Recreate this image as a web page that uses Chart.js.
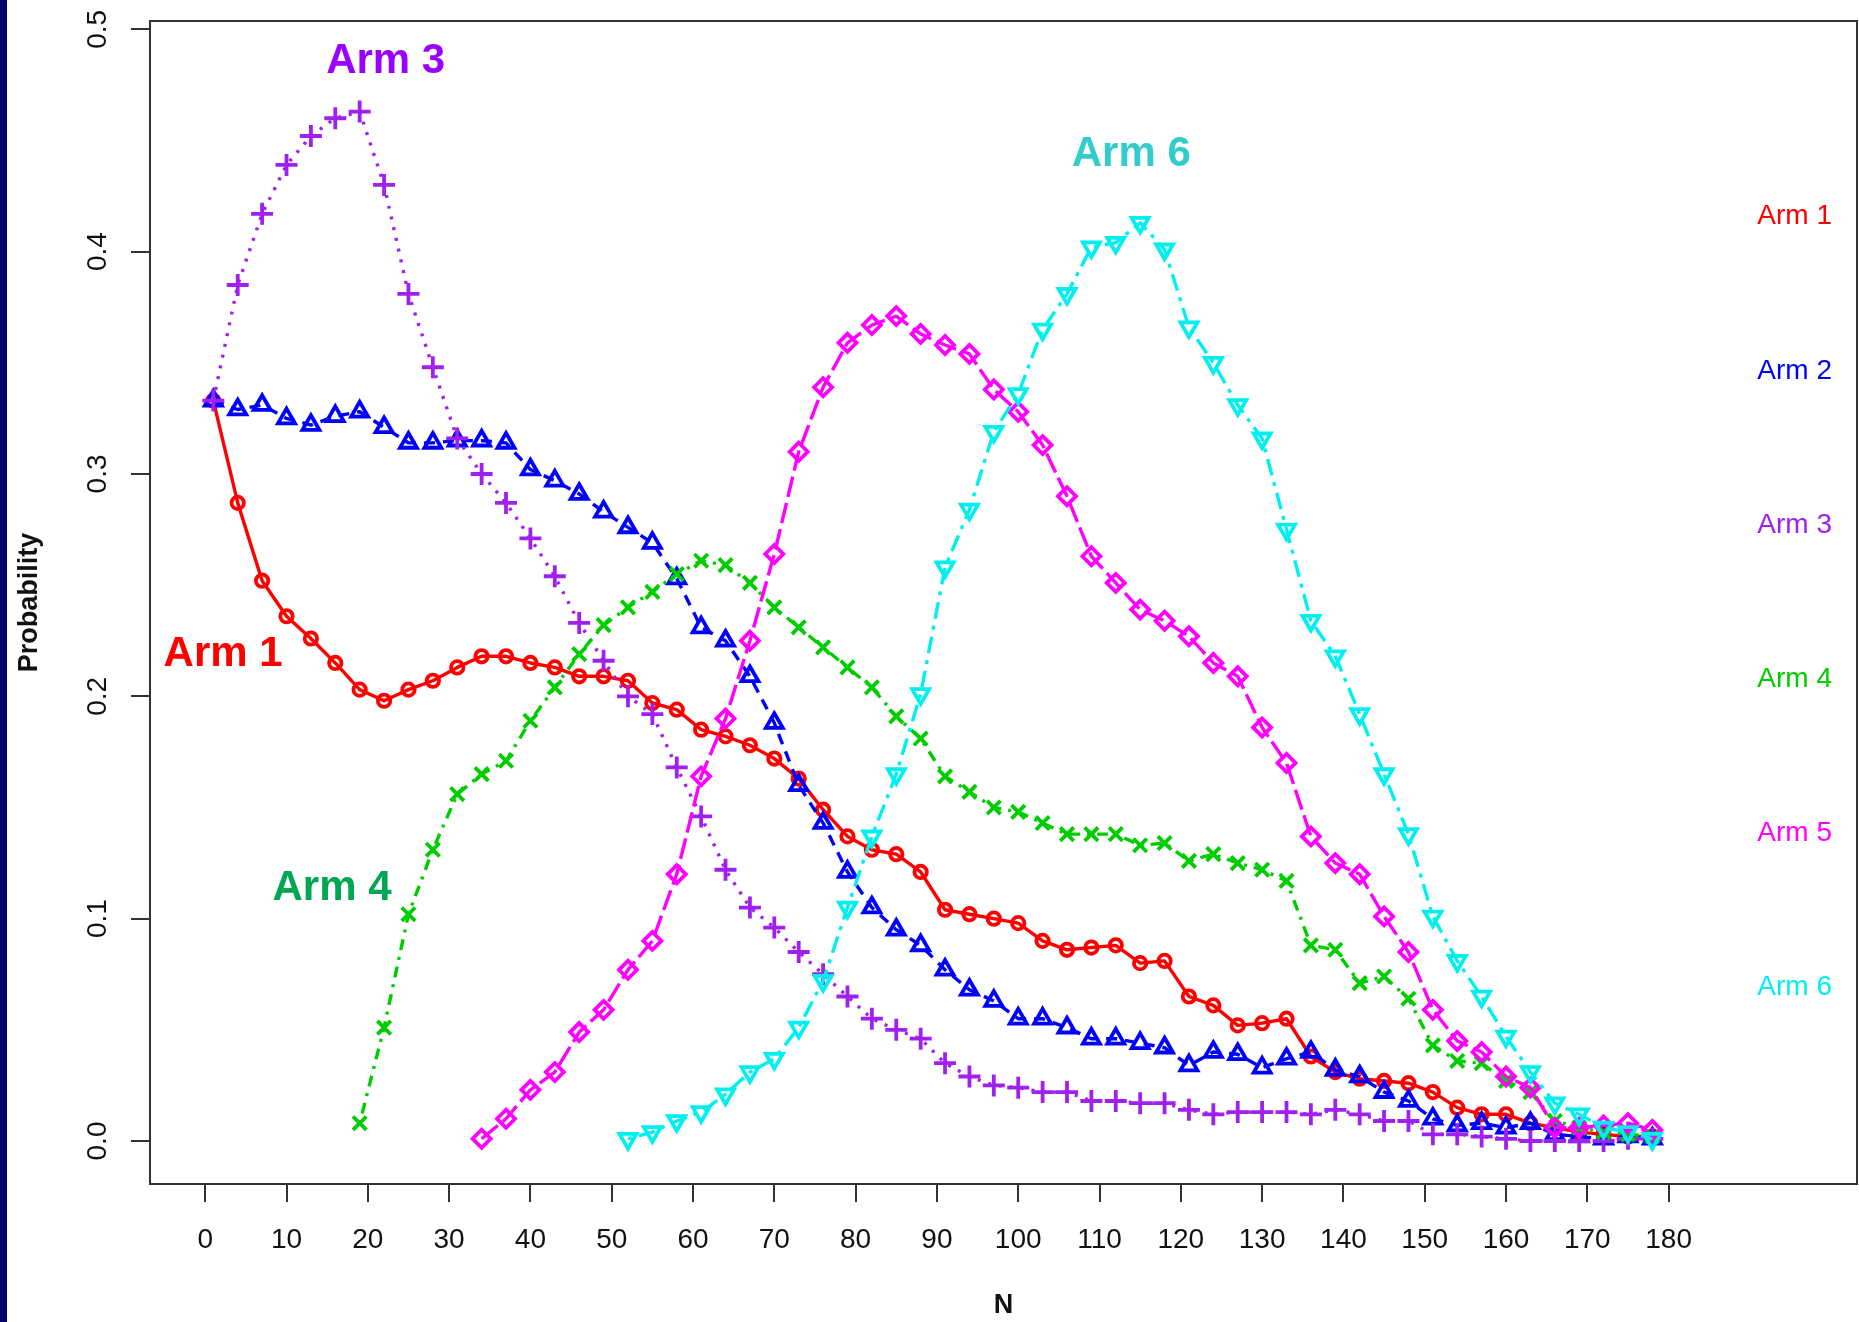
<!DOCTYPE html>
<html>
<head>
<meta charset="utf-8">
<title>Arm selection probability by N</title>
<script src="https://cdn.jsdelivr.net/npm/chart.js@4.4.1/dist/chart.umd.min.js"></script>
<style>
  html, body { margin: 0; padding: 0; background: #ffffff; overflow: hidden; }
  #wrap { position: relative; width: 1859px; height: 1322px; }
</style>
</head>
<body>
<div id="wrap"><canvas id="chart"></canvas></div>
<script>
// Sample sizes at which each arm's probability was recorded
const nValues = [1, 4, 7, 10, 13, 16, 19, 22, 25, 28, 31, 34, 37, 40, 43, 46, 49, 52, 55, 58,
  61, 64, 67, 70, 73, 76, 79, 82, 85, 88, 91, 94, 97, 100, 103, 106, 109, 112, 115, 118,
  121, 124, 127, 130, 133, 136, 139, 142, 145, 148, 151, 154, 157, 160, 163, 166, 169, 172, 175, 178];

const arm1 = [0.333, 0.287, 0.252, 0.236, 0.226, 0.215, 0.203, 0.198, 0.203, 0.207,
  0.213, 0.218, 0.218, 0.215, 0.213, 0.209, 0.209, 0.207, 0.197, 0.194,
  0.185, 0.182, 0.178, 0.172, 0.163, 0.149, 0.137, 0.131, 0.129, 0.121,
  0.104, 0.102, 0.100, 0.098, 0.090, 0.086, 0.087, 0.088, 0.080, 0.081,
  0.065, 0.061, 0.052, 0.053, 0.055, 0.038, 0.031, 0.028, 0.027, 0.026,
  0.022, 0.015, 0.012, 0.012, 0.008, 0.006, 0.004, 0.003, 0.002, 0.002];

const arm2 = [0.333, 0.329, 0.331, 0.325, 0.322, 0.326, 0.328, 0.321, 0.314, 0.314,
  0.315, 0.315, 0.314, 0.302, 0.297, 0.291, 0.283, 0.276, 0.269, 0.253,
  0.231, 0.225, 0.209, 0.188, 0.160, 0.143, 0.121, 0.105, 0.095, 0.088,
  0.077, 0.068, 0.063, 0.055, 0.055, 0.051, 0.046, 0.046, 0.044, 0.042,
  0.034, 0.040, 0.039, 0.033, 0.037, 0.040, 0.032, 0.029, 0.022, 0.018,
  0.010, 0.007, 0.008, 0.006, 0.008, 0.003, 0.002, 0.001, 0.002, 0.001];

const arm3 = [0.333, 0.385, 0.417, 0.439, 0.452, 0.460, 0.463, 0.430, 0.381, 0.348,
  0.316, 0.300, 0.287, 0.271, 0.254, 0.233, 0.216, 0.200, 0.192, 0.168,
  0.146, 0.122, 0.105, 0.096, 0.085, 0.075, 0.065, 0.055, 0.050, 0.046,
  0.035, 0.029, 0.025, 0.024, 0.022, 0.022, 0.018, 0.018, 0.017, 0.017,
  0.014, 0.012, 0.013, 0.013, 0.013, 0.012, 0.014, 0.012, 0.009, 0.009,
  0.003, 0.003, 0.002, 0.001, 0.000, 0.000, 0.000, 0.000, 0.001, 0.001];

const arm4 = [null, null, null, null, null, null, 0.008, 0.051, 0.102, 0.131,
  0.156, 0.165, 0.171, 0.189, 0.204, 0.219, 0.232, 0.240, 0.247, 0.255,
  0.261, 0.259, 0.251, 0.240, 0.231, 0.222, 0.213, 0.204, 0.191, 0.181,
  0.164, 0.157, 0.150, 0.148, 0.143, 0.138, 0.138, 0.138, 0.133, 0.134,
  0.126, 0.129, 0.125, 0.122, 0.117, 0.088, 0.086, 0.071, 0.074, 0.064,
  0.043, 0.036, 0.035, 0.027, 0.022, 0.009, 0.006, 0.004, 0.003, 0.002];

const arm5 = [null, null, null, null, null, null, null, null, null, null,
  null, 0.001, 0.010, 0.023, 0.031, 0.049, 0.059, 0.077, 0.090, 0.120,
  0.164, 0.190, 0.225, 0.264, 0.310, 0.339, 0.359, 0.367, 0.371, 0.363,
  0.358, 0.354, 0.338, 0.328, 0.313, 0.290, 0.263, 0.251, 0.239, 0.234,
  0.227, 0.215, 0.209, 0.186, 0.170, 0.137, 0.125, 0.120, 0.101, 0.085,
  0.059, 0.045, 0.040, 0.029, 0.024, 0.006, 0.006, 0.007, 0.008, 0.005];

const arm6 = [null, null, null, null, null, null, null, null, null, null,
  null, null, null, null, null, null, null, 0.001, 0.004, 0.009,
  0.013, 0.021, 0.031, 0.037, 0.051, 0.072, 0.105, 0.137, 0.165, 0.201,
  0.258, 0.284, 0.319, 0.336, 0.365, 0.381, 0.402, 0.404, 0.413, 0.401,
  0.366, 0.350, 0.331, 0.316, 0.275, 0.234, 0.218, 0.192, 0.165, 0.138,
  0.101, 0.081, 0.065, 0.047, 0.031, 0.017, 0.012, 0.006, 0.004, 0.001];

const armNames = ['Arm 1', 'Arm 2', 'Arm 3', 'Arm 4', 'Arm 5', 'Arm 6'];

// Axis ticks
const xTickValues = [0, 10, 20, 30, 40, 50, 60, 70, 80, 90, 100, 110, 120, 130, 140, 150, 160, 170, 180];
const yTickValues = [0, 0.1, 0.2, 0.3, 0.4, 0.5];
const yTickLabels = ['0.0', '0.1', '0.2', '0.3', '0.4', '0.5'];

// Bold in-plot callouts (data coordinates)
const calloutText = ['Arm 3', 'Arm 1', 'Arm 4', 'Arm 6'];
const calloutN = [22.2, 2.2, 15.6, 113.9];
const calloutP = [0.4854, 0.2190, 0.1134, 0.4437];

// Right-hand key (data coordinates)
const keyN = 195.5;
const keyP = [0.4157, 0.3464, 0.2770, 0.2077, 0.1383, 0.0690];

const FONT = '"Liberation Sans", Arial, Helvetica, sans-serif';

const lineColors = ['#ff0000', '#0000ff', '#a020f0', '#00cd00', '#ff00ff', '#00f0f0'];
const calloutColors = ['#9900ff', '#ff0000', '#00a651', '#33cccc'];

function series(name, values, color, style, radius, dash, order, rotation) {
  return {
    label: name,
    data: nValues.map((n, i) => ({ x: n, y: values[i] })),
    borderColor: color,
    backgroundColor: 'transparent',
    borderWidth: 3.4,
    borderDash: dash,
    borderCapStyle: 'butt',
    borderJoinStyle: 'round',
    pointStyle: style,
    pointRadius: radius,
    pointBorderWidth: 3.8,
    pointBorderColor: color,
    pointBackgroundColor: 'transparent',
    pointRotation: rotation || 0,
    tension: 0,
    fill: false,
    spanGaps: false,
    order: order
  };
}

const datasets = [
  series(armNames[0], arm1, lineColors[0], 'circle', 6.2, [], 6),
  series(armNames[1], arm2, lineColors[1], 'triangle', 9.8, [11, 8], 5),
  series(armNames[2], arm3, lineColors[2], 'cross', 11, [3, 8], 4),
  series(armNames[3], arm4, lineColors[3], 'crossRot', 9.5, [3, 7, 11, 7], 3),
  series(armNames[4], arm5, lineColors[4], 'rectRot', 9, [21, 6], 2),
  series(armNames[5], arm6, lineColors[5], 'triangle', 9.8, [4, 7, 17, 7], 1, 180)
];

const framePlugin = {
  id: 'frame',
  beforeDraw(chart) {
    const { ctx, width, height } = chart;
    ctx.save();
    ctx.fillStyle = '#ffffff';
    ctx.fillRect(0, 0, width, height);
    ctx.fillStyle = '#03036c';
    ctx.fillRect(0, 0, 7, height);
    ctx.restore();
  },
  afterDraw(chart) {
    const { ctx, chartArea: a, scales } = chart;
    const xs = scales.x, ys = scales.y;
    ctx.save();
    // plot frame
    ctx.strokeStyle = '#333333';
    ctx.lineWidth = 2;
    ctx.strokeRect(a.left, a.top, a.right - a.left, a.bottom - a.top);

    // y tick labels, written along the axis
    ctx.fillStyle = '#111111';
    ctx.font = '28px ' + FONT;
    ctx.textAlign = 'center';
    ctx.textBaseline = 'middle';
    yTickValues.forEach((v, i) => {
      const py = ys.getPixelForValue(v);
      ctx.save();
      ctx.translate(a.left - 52, py);
      ctx.rotate(-Math.PI / 2);
      ctx.fillText(yTickLabels[i], 0, 0);
      ctx.restore();
    });

    // bold callouts inside the plot
    ctx.font = 'bold 42px ' + FONT;
    calloutText.forEach((t, i) => {
      ctx.fillStyle = calloutColors[i];
      ctx.fillText(t, xs.getPixelForValue(calloutN[i]), ys.getPixelForValue(calloutP[i]));
    });

    // key on the right
    ctx.font = '28px ' + FONT;
    armNames.forEach((t, i) => {
      ctx.fillStyle = lineColors[i];
      ctx.fillText(t, xs.getPixelForValue(keyN), ys.getPixelForValue(keyP[i]));
    });
    ctx.restore();
  }
};

new Chart(document.getElementById('chart'), {
  type: 'line',
  data: { datasets: datasets },
  plugins: [framePlugin],
  options: {
    responsive: true,
    maintainAspectRatio: false,
    devicePixelRatio: 1,
    animation: false,
    events: [],
    layout: { autoPadding: false, padding: { left: 0, top: 21, right: 2, bottom: 0 } },
    plugins: {
      legend: { display: false },
      tooltip: { enabled: false }
    },
    scales: {
      x: {
        type: 'linear',
        min: -6.79,
        max: 203.17,
        afterBuildTicks(scale) { scale.ticks = xTickValues.map(v => ({ value: v })); },
        afterFit(scale) {
          scale.height = 138;
          scale.paddingLeft = 0;
          scale.paddingRight = 0;
        },
        border: { display: false },
        grid: {
          display: true,
          drawOnChartArea: false,
          drawTicks: true,
          tickLength: 18,
          color: '#333333',
          lineWidth: 2
        },
        ticks: {
          autoSkip: false,
          maxRotation: 0,
          minRotation: 0,
          padding: 21,
          color: '#111111',
          font: { family: FONT, size: 28 },
          callback: (v) => String(v)
        },
        title: {
          display: true,
          text: 'N',
          color: '#111111',
          font: { family: FONT, size: 27, weight: 'bold' },
          padding: { top: 0, bottom: 0 }
        }
      },
      y: {
        type: 'linear',
        min: -0.01934,
        max: 0.50373,
        afterBuildTicks(scale) { scale.ticks = yTickValues.map(v => ({ value: v })); },
        afterFit(scale) {
          scale.width = 150;
          scale.paddingTop = 0;
          scale.paddingBottom = 0;
        },
        border: { display: false },
        grid: {
          display: true,
          drawOnChartArea: false,
          drawTicks: true,
          tickLength: 19,
          color: '#333333',
          lineWidth: 2
        },
        ticks: { display: false },
        title: {
          display: true,
          text: 'Probability',
          color: '#111111',
          font: { family: FONT, size: 27, weight: 'bold' },
          padding: { top: 13, bottom: 0 }
        }
      }
    }
  }
});
</script>
</body>
</html>
